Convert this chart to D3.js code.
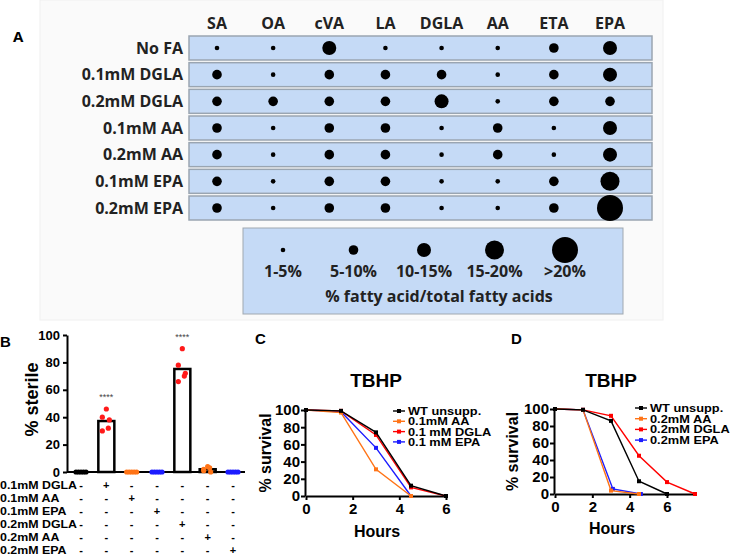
<!DOCTYPE html>
<html>
<head>
<meta charset="utf-8">
<script src="https://cdn.jsdelivr.net/npm/d3@7"></script>
<style>
  body { margin: 0; background: #fff; }
</style>
</head>
<body>
<div id="fig"></div>
<script>
// Panel A data: fatty acid levels (1 = 1-5%, 2 = 5-10%, 3 = 10-15%, 4 = 15-20%, 5 = >20%)
var faCols = ["SA", "OA", "cVA", "LA", "DGLA", "AA", "ETA", "EPA"];
var faRows = ["No FA", "0.1mM DGLA", "0.2mM DGLA", "0.1mM AA", "0.2mM AA", "0.1mM EPA", "0.2mM EPA"];
var faLevels = [
  [1, 1, 3, 1, 1, 1, 2, 3],
  [2, 1, 2, 2, 2, 1, 2, 3],
  [2, 2, 2, 2, 3, 1, 2, 2],
  [2, 1, 2, 2, 1, 2, 1, 3],
  [2, 1, 2, 2, 1, 2, 1, 3],
  [2, 1, 2, 2, 1, 1, 2, 4],
  [2, 1, 2, 2, 1, 1, 2, 5]
];
var sizeLevels = [1, 2, 3, 4, 5];
var sizeLabels = ["1-5%", "5-10%", "10-15%", "15-20%", ">20%"];

// Panel B data: % sterile
var bGroups = ["ctrl", "0.1mM DGLA", "0.1mM AA", "0.1mM EPA", "0.2mM DGLA", "0.2mM AA", "0.2mM EPA"];
var bValues = [
  [0, 0, 0, 0, 0],
  [46, 40, 38, 32, 30],
  [0, 0, 0, 0, 0],
  [0, 0, 0, 0, 0],
  [90, 78, 72, 70, 66],
  [4, 1, 0, 3, 2],
  [0, 0, 0, 0, 0]
];
var bStars = ["", "****", "", "", "****", "", ""];
var bRowLabels = ["0.1mM DGLA", "0.1mM AA", "0.1mM EPA", "0.2mM DGLA", "0.2mM AA", "0.2mM EPA"];

// Panel C data: TBHP survival
var cSeries = ["WT unsupp.", "0.1mM AA", "0.1 mM DGLA", "0.1 mM EPA"];
var cHours = [[0, 1.5, 3, 4.5, 6], [0, 1.5, 3, 4.5], [0, 1.5, 3, 4.5, 6], [0, 1.5, 3, 4.5]];
var cSurvival = [[100, 99, 74, 12, 0], [100, 97, 31, 0], [100, 99, 71, 10, 0], [100, 98, 56, 0]];

// Panel D data
var dSeries = ["WT unsupp.", "0.2mM AA", "0.2mM DGLA", "0.2mM EPA"];
var dHours = [[0, 1.5, 3, 4.5, 6], [0, 1.5, 3, 4.5], [0, 1.5, 3, 4.5, 6, 7.5], [0, 1.5, 3.1, 4.6]];
var dSurvival = [[100, 99, 86, 15, 0], [100, 99, 4, 0], [100, 99, 92, 45, 14, 0], [100, 99, 6, 0]];

var seriesColors = ["#000000", "#ff7417", "#ff0000", "#1c1cff"];
var groupColors = ["#000000", "#ff1a1a", "#ff7417", "#1c1cff", "#ff1a1a", "#ff7417", "#1c1cff"];

var svgWidth = 733;
var svgHeight = 556;
var fontA = "'Open Sans', Roboto, sans-serif";
var fontB = "'Liberation Sans', Arial, sans-serif";

var svg = d3.select("#fig")
  .append("svg")
  .attr("width", svgWidth)
  .attr("height", svgHeight)
  .style("display", "block");

// ================= Panel A =================
svg.append("rect")
  .attr("x", 40).attr("y", 0).attr("width", 623).attr("height", 320)
  .attr("fill", "#fafafa").attr("stroke", "#f0f0f0");

svg.append("text")
  .attr("x", 13).attr("y", 42)
  .attr("font-family", fontA).attr("font-weight", "bold").attr("font-size", 15)
  .text("A");

var xA = d3.scalePoint().domain(faCols).range([217, 610]);
var yA = d3.scalePoint().domain(faRows).range([48, 208]);
var rA = d3.scaleOrdinal().domain(sizeLevels).range([2.3, 4.8, 7, 9.5, 13]);

svg.selectAll("text.colhead")
  .data(faCols)
  .enter()
  .append("text")
  .attr("class", "colhead")
  .attr("x", d => xA(d))
  .attr("y", 29)
  .attr("text-anchor", "middle")
  .attr("font-family", fontA).attr("font-weight", "bold").attr("font-size", 16)
  .attr("fill", "#222")
  .text(d => d);

var rowsA = svg.selectAll("g.farow")
  .data(faRows)
  .enter()
  .append("g")
  .attr("class", "farow")
  .attr("transform", d => `translate(0, ${yA(d)})`);

rowsA.append("rect")
  .attr("x", 189).attr("y", -12).attr("width", 463).attr("height", 24)
  .attr("fill", "#c5daf6").attr("stroke", "#9aa5b1").attr("stroke-width", 1.5);

rowsA.append("text")
  .attr("x", 183).attr("y", 5.5)
  .attr("text-anchor", "end")
  .attr("font-family", fontA).attr("font-weight", "bold").attr("font-size", 16)
  .attr("fill", "#222")
  .text(d => d);

rowsA.each(function(row, i) {
  d3.select(this).selectAll("circle")
    .data(faLevels[i])
    .enter()
    .append("circle")
    .attr("cx", (d, j) => xA(faCols[j]))
    .attr("cy", 0)
    .attr("r", d => rA(d))
    .attr("fill", "#000");
});

// size legend
svg.append("rect")
  .attr("x", 243).attr("y", 228).attr("width", 380).attr("height", 86)
  .attr("fill", "#c5daf6").attr("stroke", "#a0a8b0").attr("stroke-width", 1);

var xLeg = d3.scalePoint().domain(sizeLevels).range([283, 565]);

svg.selectAll("circle.sizeleg")
  .data(sizeLevels)
  .enter()
  .append("circle")
  .attr("class", "sizeleg")
  .attr("cx", d => xLeg(d))
  .attr("cy", 250)
  .attr("r", d => rA(d))
  .attr("fill", "#000");

svg.selectAll("text.sizeleg")
  .data(sizeLevels)
  .enter()
  .append("text")
  .attr("class", "sizeleg")
  .attr("x", d => xLeg(d))
  .attr("y", 277)
  .attr("text-anchor", "middle")
  .attr("font-family", fontA).attr("font-weight", "bold").attr("font-size", 16)
  .attr("fill", "#222")
  .text((d, i) => sizeLabels[i]);

svg.append("text")
  .attr("x", 439).attr("y", 302)
  .attr("text-anchor", "middle")
  .attr("font-family", fontA).attr("font-weight", "bold").attr("font-size", 16)
  .attr("fill", "#222")
  .text("% fatty acid/total fatty acids");

// ================= Panel B =================
svg.append("text")
  .attr("x", 0).attr("y", 347)
  .attr("font-family", fontB).attr("font-weight", "bold").attr("font-size", 15)
  .text("B");

var xB = d3.scalePoint().domain(d3.range(bGroups.length)).range([81, 233]);
var yB = d3.scaleLinear().domain([0, 100]).range([472, 335]);
var jitter = [0, -4, 3, 2, -4];
var zeroJitter = [-5, -2.5, 0, 2.5, 5];

var leftAxisB = d3.axisLeft(yB).tickValues([0, 20, 40, 60, 80, 100]).tickSize(4).tickSizeOuter(0);
var gyB = svg.append("g")
  .attr("transform", "translate(67, 0)")
  .call(leftAxisB);
gyB.select(".domain").attr("stroke-width", 2);
gyB.selectAll(".tick line").attr("stroke-width", 2);
gyB.selectAll("text")
  .attr("font-family", fontB).attr("font-weight", "bold").attr("font-size", 13).attr("fill", "#000");

svg.append("line")
  .attr("x1", 67).attr("x2", 245)
  .attr("y1", yB(0)).attr("y2", yB(0))
  .attr("stroke", "#000").attr("stroke-width", 2);

svg.append("text")
  .attr("transform", `translate(38, ${(yB(0) + yB(100)) / 2 - 4}) rotate(-90)`)
  .attr("text-anchor", "middle")
  .attr("font-family", fontB).attr("font-weight", "bold").attr("font-size", 18)
  .text("% sterile");

// bars (mean)
svg.selectAll("rect.barB")
  .data(bValues)
  .enter()
  .append("rect")
  .attr("class", "barB")
  .attr("x", (d, i) => xB(i) - 8)
  .attr("width", 16)
  .attr("y", d => yB(d3.mean(d)))
  .attr("height", d => yB(0) - yB(d3.mean(d)))
  .attr("fill", "#fff")
  .attr("stroke", "#000")
  .attr("stroke-width", 2.5);

// points
bValues.forEach(function(vals, i) {
  var allZero = d3.max(vals) === 0;
  svg.selectAll("circle.ptB" + i)
    .data(vals)
    .enter()
    .append("circle")
    .attr("class", "ptB" + i)
    .attr("cx", (d, j) => xB(i) + (allZero ? zeroJitter[j] : jitter[j]))
    .attr("cy", d => yB(d))
    .attr("r", 2.6)
    .attr("fill", groupColors[i]);
});

svg.selectAll("text.stars")
  .data(bStars)
  .enter()
  .append("text")
  .attr("class", "stars")
  .attr("x", (d, i) => xB(i))
  .attr("y", (d, i) => yB(d3.max(bValues[i])) - 9)
  .attr("text-anchor", "middle")
  .attr("font-family", fontB).attr("font-size", 9)
  .attr("fill", "#444")
  .text(d => d);

// treatment table under B (wide, short lettering)
var yRowB = d3.scalePoint().domain(bRowLabels).range([485, 550]);
svg.selectAll("text.rowB")
  .data(bRowLabels)
  .enter()
  .append("text")
  .attr("class", "rowB")
  .attr("transform", d => `translate(0, ${yRowB(d) + 4}) scale(1.18, 1)`)
  .attr("font-family", fontB).attr("font-weight", "bold").attr("font-size", 10.5)
  .text(d => d);

bRowLabels.forEach(function(lbl, r) {
  svg.selectAll("text.sign" + r)
    .data(bGroups)
    .enter()
    .append("text")
    .attr("class", "sign" + r)
    .attr("x", (d, i) => xB(i))
    .attr("y", yRowB(lbl) + 4)
    .attr("text-anchor", "middle")
    .attr("font-family", fontB).attr("font-weight", "bold").attr("font-size", 11)
    .text(d => (d === lbl ? "+" : "-"));
});

// ================= Panels C and D =================
function survivalPanel(opt) {
  var x = d3.scaleLinear().domain(opt.xDomain).range(opt.xRange);
  var y = d3.scaleLinear().domain([0, 100]).range(opt.yRange);

  svg.append("text")
    .attr("x", opt.letterX).attr("y", 344)
    .attr("font-family", fontB).attr("font-weight", "bold").attr("font-size", 15)
    .text(opt.letter);

  svg.append("text")
    .attr("x", (x(0) + x(6)) / 2).attr("y", 387)
    .attr("text-anchor", "middle")
    .attr("font-family", fontB).attr("font-weight", "bold").attr("font-size", 19)
    .text("TBHP");

  var gx = svg.append("g")
    .attr("transform", `translate(0, ${y(0)})`)
    .call(d3.axisBottom(x).tickValues([0, 2, 4, 6]).tickFormat(d3.format("d")).tickSize(4).tickSizeOuter(0));
  var gy = svg.append("g")
    .attr("transform", `translate(${x(0) - 1}, 0)`)
    .call(d3.axisLeft(y).tickValues([0, 20, 40, 60, 80, 100]).tickSize(4).tickSizeOuter(0).tickPadding(1));
  [gx, gy].forEach(function(g) {
    g.select(".domain").attr("stroke-width", 2);
    g.selectAll(".tick line").attr("stroke-width", 2);
    g.selectAll("text")
      .attr("font-family", fontB).attr("font-weight", "bold").attr("font-size", 15).attr("fill", "#000");
  });

  svg.append("text")
    .attr("transform", `translate(${opt.yLabelX}, ${(y(0) + y(100)) / 2}) rotate(-90)`)
    .attr("text-anchor", "middle")
    .attr("font-family", fontB).attr("font-weight", "bold").attr("font-size", 16)
    .text("% survival");

  svg.append("text")
    .attr("x", (x(0) + x(6)) / 2 + 1).attr("y", opt.hoursY)
    .attr("text-anchor", "middle")
    .attr("font-family", fontB).attr("font-weight", "bold").attr("font-size", 16)
    .text("Hours");

  var line = d3.line().x(d => x(d[0])).y(d => y(d[1]));
  var order = [3, 2, 1, 0];
  order.forEach(function(s) {
    var pts = opt.hours[s].map((h, k) => [h, opt.surv[s][k]]);
    svg.append("path")
      .datum(pts)
      .attr("d", line)
      .attr("fill", "none")
      .attr("stroke", seriesColors[s])
      .attr("stroke-width", 1.4);
    svg.selectAll("rect.mk" + opt.letter + s)
      .data(pts)
      .enter()
      .append("rect")
      .attr("class", "mk" + opt.letter + s)
      .attr("x", d => x(d[0]) - 2)
      .attr("y", d => y(d[1]) - 2)
      .attr("width", 4).attr("height", 4)
      .attr("fill", seriesColors[s]);
  });

  // legend
  var leg = svg.selectAll("g.leg" + opt.letter)
    .data(opt.names)
    .enter()
    .append("g")
    .attr("class", "leg" + opt.letter)
    .attr("transform", (d, i) => `translate(${opt.legX}, ${opt.legY + i * opt.legStep})`);
  leg.append("line")
    .attr("x1", 0).attr("x2", 12)
    .attr("stroke", (d, i) => seriesColors[i]).attr("stroke-width", 1.4);
  leg.append("rect")
    .attr("x", 4).attr("y", -2).attr("width", 4).attr("height", 4)
    .attr("fill", (d, i) => seriesColors[i]);
  leg.append("text")
    .attr("transform", "translate(15, 4) scale(1.22, 1)")
    .attr("font-family", fontB).attr("font-weight", "bold").attr("font-size", 10.5)
    .text(d => d);
}

survivalPanel({
  letter: "C", letterX: 255,
  xDomain: [0, 6], xRange: [306, 446], yRange: [496, 410],
  yLabelX: 271, hoursY: 537,
  names: cSeries, hours: cHours, surv: cSurvival,
  legX: 393, legY: 411, legStep: 10.3
});

survivalPanel({
  letter: "D", letterX: 511,
  xDomain: [0, 7.5], xRange: [555, 695], yRange: [494, 409],
  yLabelX: 518, hoursY: 534,
  names: dSeries, hours: dHours, surv: dSurvival,
  legX: 635, legY: 408, legStep: 10.7
});
</script>
</body>
</html>
